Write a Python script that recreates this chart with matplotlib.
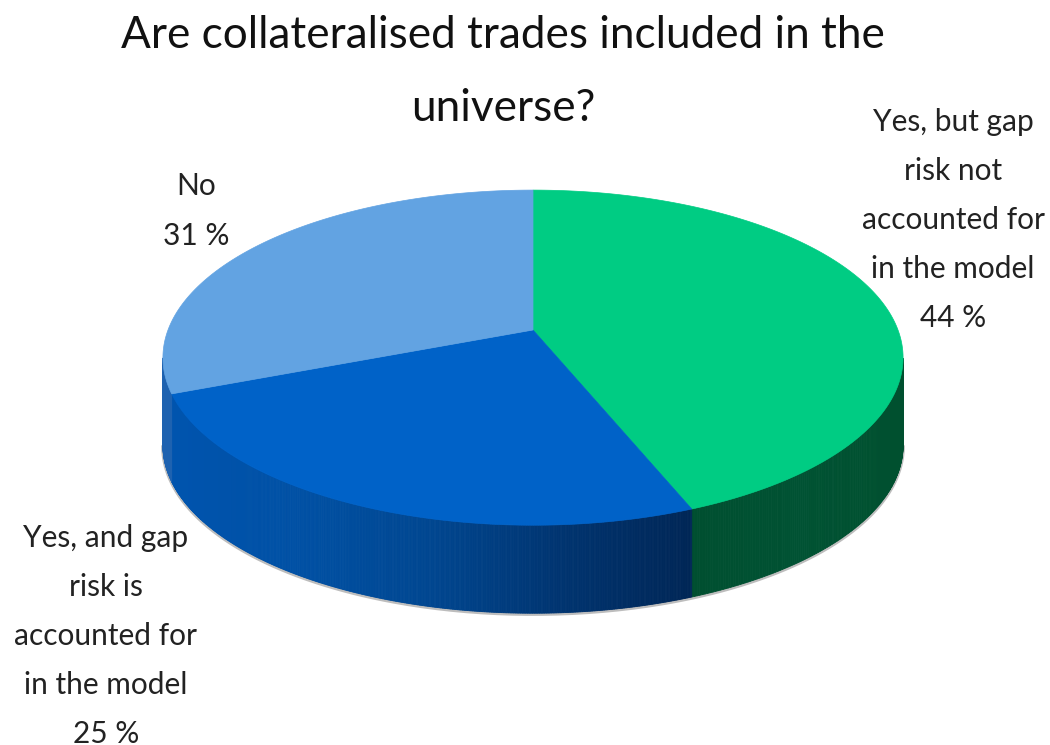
import numpy as np
import matplotlib
matplotlib.use("Agg")
import matplotlib.pyplot as plt
from matplotlib.colors import LinearSegmentedColormap
from matplotlib.patches import Polygon

plt.rcParams["font.family"] = ["Lato", "DejaVu Sans"]

# Survey answers, clockwise from twelve o'clock
labels = ["Yes, but gap\nrisk not\naccounted for\nin the model\n44 %",
          "Yes, and gap\nrisk is\naccounted for\nin the model\n25 %",
          "No\n31 %"]
values = [44, 25, 31]
label_pos = [(953, 220), (106, 636), (196, 211)]

top_colors = ["#00CC83", "#0062C8", "#62A3E2"]
side_cmaps = [
    LinearSegmentedColormap.from_list("green_side", ["#004F30", "#005233", "#00502F"]),
    LinearSegmentedColormap.from_list("blue_side", ["#0054AE", "#0050A4", "#004690", "#003470", "#002656"]),
    LinearSegmentedColormap.from_list("light_side", ["#1E62B0", "#1E62B0"]),
]

# Pie geometry in pixels, perspective tilt k pulls the front edge closer
CX, CY = 533, 330
SX, SY = 365, 163
K = 0.165
DEPTH = 88


def project(theta):
    u, v = np.sin(theta), np.cos(theta)
    d = 1 + K * v
    return CX + SX * u / d, CY - SY * v / d


fig = plt.figure(figsize=(10.5, 7.45), dpi=100)
ax = fig.add_axes([0, 0, 1, 1])
ax.set_xlim(0, 1050)
ax.set_ylim(745, 0)
ax.axis("off")

edges = np.cumsum([0] + values) / sum(values) * 2 * np.pi

# Soft grey line under the lower rim
rim_t = np.linspace(0, 2 * np.pi, 720)
rim_x, rim_y = project(rim_t)
front = np.gradient(rim_x) < 0
ax.plot(rim_x[front], rim_y[front] + DEPTH + 1, color="#BDBDBD", linewidth=2.5, zorder=1)

# Side wall first, only the front half of the rim is visible
for start, end, cmap in zip(edges[:-1], edges[1:], side_cmaps):
    ts = np.linspace(start, end, 400)
    xs, ys = project(ts)
    idx = np.where(np.gradient(xs) < 0)[0]
    if len(idx) < 2:
        continue
    span = xs[idx].max() - xs[idx].min()
    for i, j in zip(idx[:-1], idx[1:]):
        quad = [(xs[i], ys[i]), (xs[j], ys[j]), (xs[j], ys[j] + DEPTH), (xs[i], ys[i] + DEPTH)]
        c = cmap((xs[i] - xs[idx].min()) / span)
        ax.add_patch(Polygon(quad, closed=True, facecolor=c, edgecolor=c, linewidth=0.6, zorder=2))

# Top face
for start, end, color in zip(edges[:-1], edges[1:], top_colors):
    ts = np.linspace(start, end, 300)
    xs, ys = project(ts)
    pts = [(CX, CY)] + list(zip(xs, ys))
    ax.add_patch(Polygon(pts, closed=True, facecolor=color, edgecolor=color, linewidth=0.5, zorder=3))

for text, (x, y) in zip(labels, label_pos):
    ax.text(x, y, text, ha="center", va="center", fontsize=21.5, color="#222222", linespacing=1.92)

ax.text(503, 72, "Are collateralised trades included in the\nuniverse?", ha="center", va="center",
        fontsize=31.8, color="#111111", linespacing=1.95)

fig.savefig("out.png", dpi=100)
